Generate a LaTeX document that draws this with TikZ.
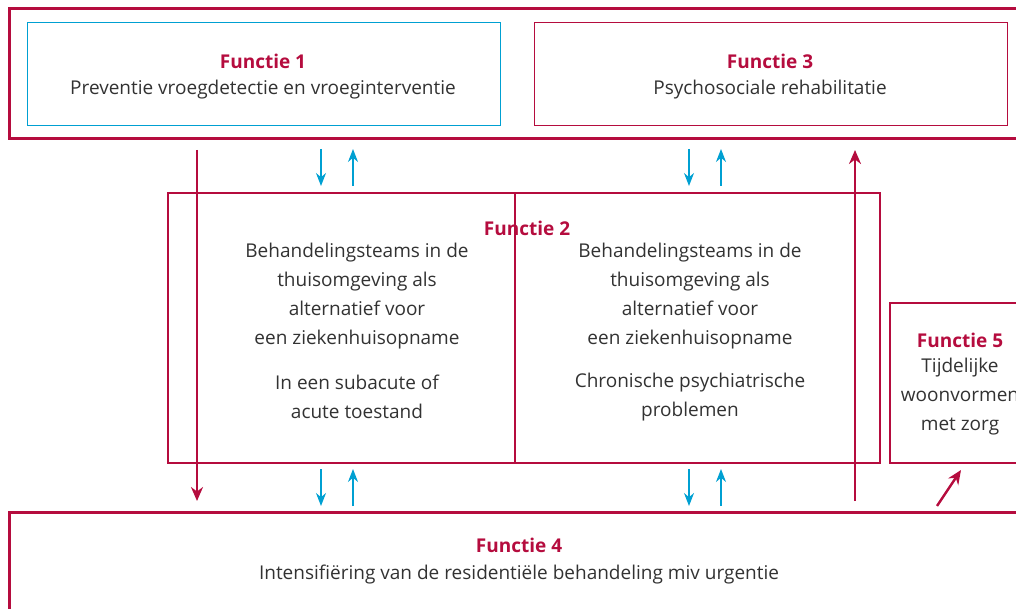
\documentclass[tikz,border=0pt]{standalone}
\usepackage{fontspec}
\setmainfont{Open Sans}
\usetikzlibrary{arrows.meta}
\definecolor{fred}{RGB}{181,12,62}
\definecolor{fcyan}{RGB}{0,160,210}
\definecolor{ftext}{RGB}{50,50,50}
\tikzset{
  outerbox/.style={draw=fred,line width=3pt},
  midbox/.style={draw=fred,line width=2.4pt},
  innerred/.style={draw=fred,line width=0.8pt},
  innercyan/.style={draw=fcyan,line width=0.8pt},
  txt/.style={text=ftext,font=\fontsize{19}{29}\selectfont,align=center},
  head/.style={text=fred,font=\fontsize{19}{29}\selectfont\bfseries},
  redarrow/.style={draw=fred,line width=2.4pt,-{Stealth[length=14pt,width=12pt]}},
  cyanarrow/.style={draw=fcyan,line width=1.3pt,-{Stealth[length=13pt,width=10pt]}},
}
\begin{document}
\begin{tikzpicture}[x=1pt,y=-1pt]
\useasboundingbox (0,0) rectangle (1016,609);
\clip (0,0) rectangle (1016,609);
% outer boxes
\draw[outerbox] (9,9) rectangle (1030,139);
\draw[outerbox] (9,512) rectangle (1030,630);
\node[midbox,minimum width=712pt,minimum height=270pt,inner sep=0pt] (f2) at (524,328) {};
\draw[midbox] (515,193) -- (515,463);
\draw[midbox] (890,303) rectangle (1030,463);
\node[innercyan,minimum width=473pt,minimum height=103pt,inner sep=0pt] (f1) at (263.5,73.5) {};
\node[innerred,minimum width=473pt,minimum height=103pt,inner sep=0pt] (f3) at (770.5,73.5) {};
% texts
\node[head] (h1) at (263,61) {Functie 1};
\node[txt] (t1) at (263,90) {Preventie vroegdetectie en vroeginterventie};
\node[head] (h3) at (770,61) {Functie 3};
\node[txt] (t3) at (770,90) {Psychosociale rehabilitatie};
\node[head] (h2) at (527,228) {Functie 2};
\node[txt] (t2a) at (357,296) {Behandelingsteams in de\\thuisomgeving als\\alternatief voor\\een ziekenhuisopname};
\node[txt] (t2b) at (357,397) {In een subacute of\\acute toestand};
\node[txt] (t2c) at (690,296) {Behandelingsteams in de\\thuisomgeving als\\alternatief voor\\een ziekenhuisopname};
\node[txt] (t2d) at (690,397) {Chronische psychiatrische\\problemen};
\node[head] (h5) at (960,340) {Functie 5};
\node[txt] (t5) at (960,397) {Tijdelijke\\woonvormen\\met zorg};
\node[head] (h4) at (519,545) {Functie 4};
\node[txt] (t4) at (519,575) {Intensifiëring van de residentiële behandeling miv urgentie};
% red arrows
\coordinate (a1s) at (197,150); \coordinate (a1e) at (197,501);
\draw[redarrow] (a1s) -- (a1e);
\coordinate (a2s) at (855,501); \coordinate (a2e) at (855,150);
\draw[redarrow] (a2s) -- (a2e);
\coordinate (a3s) at (937,506); \coordinate (a3e) at (961,470);
\draw[redarrow] (a3s) -- (a3e);
% cyan arrows
\foreach \x/\n in {321/a,689/b}{
  \coordinate (cd\n1) at (\x,149); \coordinate (cd\n2) at (\x,186);
  \draw[cyanarrow] (cd\n1) -- (cd\n2);
  \coordinate (ce\n1) at (\x,469); \coordinate (ce\n2) at (\x,506);
  \draw[cyanarrow] (ce\n1) -- (ce\n2);
}
\foreach \x/\n in {353/a,721/b}{
  \coordinate (cu\n1) at (\x,186); \coordinate (cu\n2) at (\x,149);
  \draw[cyanarrow] (cu\n1) -- (cu\n2);
  \coordinate (cv\n1) at (\x,506); \coordinate (cv\n2) at (\x,469);
  \draw[cyanarrow] (cv\n1) -- (cv\n2);
}
\end{tikzpicture}
\end{document}
